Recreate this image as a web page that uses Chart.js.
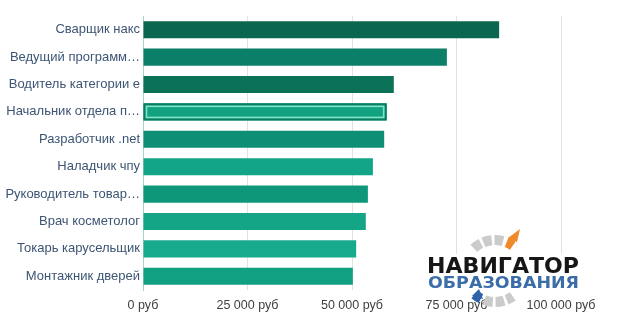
<!DOCTYPE html>
<html>
<head>
<meta charset="utf-8">
<script src="https://cdn.jsdelivr.net/npm/chart.js@4.4.0/dist/chart.umd.min.js"></script>
<style>
  body { margin: 0; background: #fff; }
  #wrap { width: 627px; height: 334px; }
</style>
</head>
<body>
<div id="wrap"><canvas id="salaryChart" width="627" height="334"></canvas></div>
<script>
// professions and average salary, rub
const professions = [
  'Сварщик накс',
  'Ведущий программ…',
  'Водитель категории е',
  'Начальник отдела п…',
  'Разработчик .net',
  'Наладчик чпу',
  'Руководитель товар…',
  'Врач косметолог',
  'Токарь карусельщик',
  'Монтажник дверей'
];
const salaries = [85200, 72700, 60000, 58300, 57700, 55000, 53800, 53300, 51000, 50200];
const barColors = ['#0b6650', '#0b7f68', '#0b7258', '#12a281', '#0e8e74',
                   '#12a587', '#0f977a', '#14a587', '#17aa8c', '#12a083'];
const activeBar = 3;

function rub(v) {
  return String(v).replace(/\B(?=(\d{3})+(?!\d))/g, ' ') + ' руб';
}

// outline on the hovered bar
const activeOutline = {
  id: 'activeOutline',
  afterDatasetsDraw(chart) {
    const bar = chart.getDatasetMeta(0).data[activeBar];
    if (!bar) return;
    const p = bar.getProps(['x', 'y', 'base', 'height'], true);
    const ctx = chart.ctx;
    const left = p.base, right = p.x, top = p.y - p.height / 2;
    ctx.save();
    ctx.strokeStyle = '#0b7c62';
    ctx.lineWidth = 2;
    ctx.strokeRect(left + 1, top + 1, right - left - 2, p.height - 2);
    ctx.strokeStyle = '#80e4c7';
    ctx.lineWidth = 1.6;
    ctx.strokeRect(left + 3, top + 3, right - left - 6, p.height - 6);
    ctx.restore();
  }
};

// site logo in the lower right corner
const logo = {
  id: 'logo',
  afterDraw(chart) {
    const ctx = chart.ctx;
    const cx = 495, cy = 271, r = 31;
    ctx.save();
    ctx.fillStyle = '#fff';
    ctx.fillRect(424, 254, 160, 36);

    const seg = (a0, a1, color) => {
      ctx.beginPath();
      ctx.strokeStyle = color;
      ctx.lineWidth = 10;
      ctx.arc(cx, cy, r, a0 * Math.PI / 180, a1 * Math.PI / 180);
      ctx.stroke();
    };
    seg(-133, -117, '#cbcbcb');
    seg(-112, -96, '#cbcbcb');
    seg(-91, -75, '#cbcbcb');
    seg(-68, -55, '#ef8a2a');
    seg(55, 68, '#cbcbcb');
    seg(73, 89, '#cbcbcb');
    seg(94, 110, '#cbcbcb');
    seg(117, 131, '#2f63a8');

    // pointer tips
    ctx.fillStyle = '#ef8a2a';
    ctx.beginPath();
    ctx.moveTo(508, 238); ctx.lineTo(520, 229); ctx.lineTo(517, 242); ctx.closePath();
    ctx.fill();
    ctx.fillStyle = '#2f63a8';
    ctx.beginPath();
    ctx.moveTo(472, 296); ctx.lineTo(479, 289); ctx.lineTo(483, 299); ctx.closePath();
    ctx.fill();

    const fitText = (text, font, color, x, baseline, width) => {
      ctx.font = font;
      const w = ctx.measureText(text).width;
      ctx.save();
      ctx.translate(x, baseline);
      ctx.scale(width / w, 1);
      ctx.fillStyle = color;
      ctx.textBaseline = 'alphabetic';
      ctx.fillText(text, 0, 0);
      ctx.restore();
    };
    fitText('НАВИГАТОР', 'bold 21px "DejaVu Sans"', '#161616', 427, 273, 152);
    fitText('ОБРАЗОВАНИЯ', 'bold 15px "DejaVu Sans"', '#3b6ea8', 428, 288, 151);
    ctx.restore();
  }
};

new Chart(document.getElementById('salaryChart'), {
  type: 'bar',
  data: {
    labels: professions,
    datasets: [{
      data: salaries,
      backgroundColor: barColors,
      borderWidth: 0,
      categoryPercentage: 0.8,
      barPercentage: 0.78
    }]
  },
  options: {
    indexAxis: 'y',
    responsive: false,
    animation: false,
    layout: { padding: { top: 16, right: 66, bottom: 0, left: 0 } },
    plugins: { legend: { display: false }, tooltip: { enabled: false } },
    scales: {
      x: {
        min: 0,
        max: 100000,
        afterFit(scale) { scale.height = 44; },
        ticks: {
          stepSize: 25000,
          padding: 8,
          color: '#3f3f3f',
          font: { family: '"Liberation Sans", Arial', size: 12.5 },
          callback: v => rub(v)
        },
        grid: { color: '#e2e2e2', drawTicks: false },
        border: { display: false }
      },
      y: {
        afterFit(scale) { scale.width = 143; },
        ticks: {
          padding: 3,
          color: '#3d5574',
          font: { family: '"Liberation Sans", Arial', size: 13 }
        },
        grid: { display: false, drawTicks: false },
        border: { color: '#a6d4ca', width: 1 }
      }
    }
  },
  plugins: [activeOutline, logo]
});
</script>
</body>
</html>
